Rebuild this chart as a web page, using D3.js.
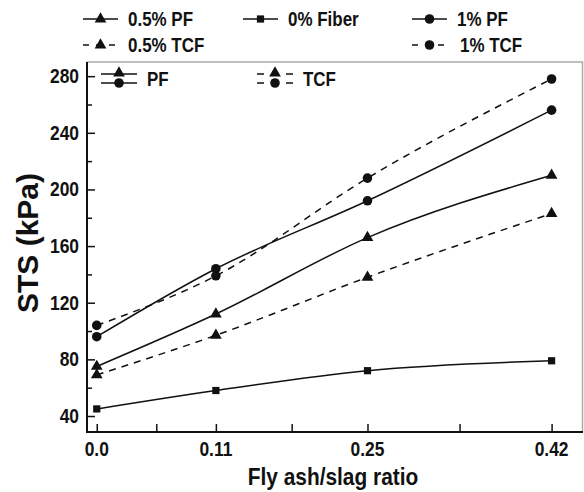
<!DOCTYPE html>
<html lang="en">
<head>
  <meta charset="utf-8">
  <title>STS vs fly ash/slag ratio</title>
  <script src="https://d3js.org/d3.v7.min.js"></script>
  <style>
    body { margin: 0; background: #fff; }
    text { font-family: "Liberation Sans", Arial, sans-serif; font-weight: bold; fill: #111; }
  </style>
</head>
<body>
<script>
  // fly ash/slag ratios (x) and STS values in kPa
  var ratios = [0.0, 0.11, 0.25, 0.42];
  var tickLabels = ["0.0", "0.11", "0.25", "0.42"];
  var fiber0 = [45, 58, 72, 79];
  var pf05 = [75, 112, 166, 210];
  var tcf05 = [69, 97, 138, 183];
  var pf1 = [96, 144, 192, 256];
  var tcf1 = [104, 139, 208, 278];
  var yTicks = [40, 80, 120, 160, 200, 240, 280];

  var series = [
    { name: "0% Fiber", vals: fiber0, sym: "square", dash: null },
    { name: "0.5% PF", vals: pf05, sym: "triangle", dash: null },
    { name: "0.5% TCF", vals: tcf05, sym: "triangle", dash: "7,6" },
    { name: "1% PF", vals: pf1, sym: "circle", dash: null },
    { name: "1% TCF", vals: tcf1, sym: "circle", dash: "7,6" }
  ];

  var width = 584, height = 492;
  var m = { left: 87, right: 1, top: 62, bottom: 60 };
  var squash = 0.87; // the figure's lettering is narrow

  var svg = d3.select("body").append("svg")
    .attr("width", width)
    .attr("height", height);

  var x = d3.scaleLinear().domain([-0.009, 0.449]).range([m.left, width - m.right]);
  var y = d3.scaleLinear().domain([28.7, 290]).range([height - m.bottom, m.top]);

  // symbol helper
  function sym(g, type, cx, cy, s) {
    s = s || 1;
    var t = type == "triangle" ? d3.symbolTriangle : type == "square" ? d3.symbolSquare : d3.symbolCircle;
    var size = type == "triangle" ? 60 : type == "square" ? 52 : 72;
    g.append("path")
      .attr("d", d3.symbol().type(t).size(size * s)())
      .attr("transform", "translate(" + cx + "," + cy + ")")
      .attr("fill", "#111");
  }

  // narrow text helper
  function label(g, tx, ty, str, size, anchor) {
    return g.append("text")
      .attr("transform", "translate(" + tx + "," + ty + ") scale(" + squash + ",1)")
      .attr("text-anchor", anchor || "start")
      .style("font-size", size + "px")
      .text(str);
  }

  // frame: gray top/right
  svg.append("path")
    .attr("d", "M" + m.left + "," + m.top + "H" + (width - m.right - 0.5) + "V" + (height - m.bottom))
    .attr("fill", "none").attr("stroke", "#aaa").attr("stroke-width", 1.5);

  // y axis, ticks inside
  var yAxis = d3.axisRight(y).tickValues(d3.range(40, 281, 20)).tickSize(6).tickFormat("");
  var gy = svg.append("g").attr("transform", "translate(" + m.left + ",0)").call(yAxis);
  gy.selectAll("line").attr("stroke", "#111").attr("stroke-width", 1.5)
    .attr("x2", function(d) { return d % 40 == 0 ? 8 : 5; });
  gy.select(".domain").remove();
  yTicks.forEach(function(d) {
    label(svg, m.left - 8, y(d) + 7, d, 20, "end");
  });

  // x axis, ticks inside, minor ticks half way
  var minor = [];
  for (var i = 0; i < ratios.length - 1; i++) minor.push((ratios[i] + ratios[i + 1]) / 2);
  var xAxis = d3.axisTop(x).tickValues(ratios.concat(minor)).tickSize(8).tickFormat("");
  var gx = svg.append("g").attr("transform", "translate(0," + (height - m.bottom) + ")").call(xAxis);
  gx.selectAll("line").attr("stroke", "#111").attr("stroke-width", 1.5);
  gx.select(".domain").remove();
  ratios.forEach(function(d, i) {
    label(svg, x(d), height - m.bottom + 24, tickLabels[i], 20, "middle");
  });

  // black left and bottom axis lines
  svg.append("path")
    .attr("d", "M" + m.left + "," + m.top + "V" + (height - m.bottom) + "H" + (width - m.right))
    .attr("fill", "none").attr("stroke", "#111").attr("stroke-width", 2);

  // axis titles
  svg.append("text")
    .attr("transform", "translate(38,243) rotate(-90)")
    .attr("text-anchor", "middle")
    .style("font-size", "30px")
    .text("STS (kPa)");
  label(svg, 333, 485, "Fly ash/slag ratio", 24, "middle");

  // lines
  var line = d3.line()
    .x(function(d, i) { return x(ratios[i]); })
    .y(function(d) { return y(d); })
    .curve(d3.curveMonotoneX);

  series.forEach(function(s) {
    svg.append("path")
      .datum(s.vals)
      .attr("d", line)
      .attr("fill", "none")
      .attr("stroke", "#111")
      .attr("stroke-width", 1.5)
      .attr("stroke-dasharray", s.dash);
    s.vals.forEach(function(v, i) { sym(svg, s.sym, x(ratios[i]), y(v)); });
  });

  // top legend
  var legItems = [
    { s: series[1], lx: 83, ly: 19 },
    { s: series[0], lx: 243, ly: 19 },
    { s: series[3], lx: 412, ly: 19 },
    { s: series[2], lx: 83, ly: 45 },
    { s: series[4], lx: 412, ly: 45 }
  ];
  legItems.forEach(function(it) {
    var g = svg.append("g");
    g.append("line")
      .attr("x1", it.lx).attr("x2", it.lx + 35)
      .attr("y1", it.ly).attr("y2", it.ly)
      .attr("stroke", "#111").attr("stroke-width", 1.5)
      .attr("stroke-dasharray", it.s.dash ? "6,7" : null);
    sym(g, it.s.sym, it.lx + 17.5, it.ly);
    label(g, it.lx + 45 + (it.s.dash && it.s.sym == "circle" ? 3 : 0), it.ly + 7, it.s.name, 19.5);
  });

  // inner legend
  var inner = svg.append("g");
  [[101, "PF", null, 147], [257, "TCF", "7,22", 303]].forEach(function(d) {
    [74, 83].forEach(function(yy) {
      inner.append("line")
        .attr("x1", d[0]).attr("x2", d[0] + 36)
        .attr("y1", yy).attr("y2", yy)
        .attr("stroke", "#111").attr("stroke-width", 1.5)
        .attr("stroke-dasharray", d[2]);
    });
    sym(inner, "triangle", d[0] + 18, 73);
    sym(inner, "circle", d[0] + 18, 83);
    label(inner, d[3], 86, d[1], 19.5);
  });
</script>
</body>
</html>
